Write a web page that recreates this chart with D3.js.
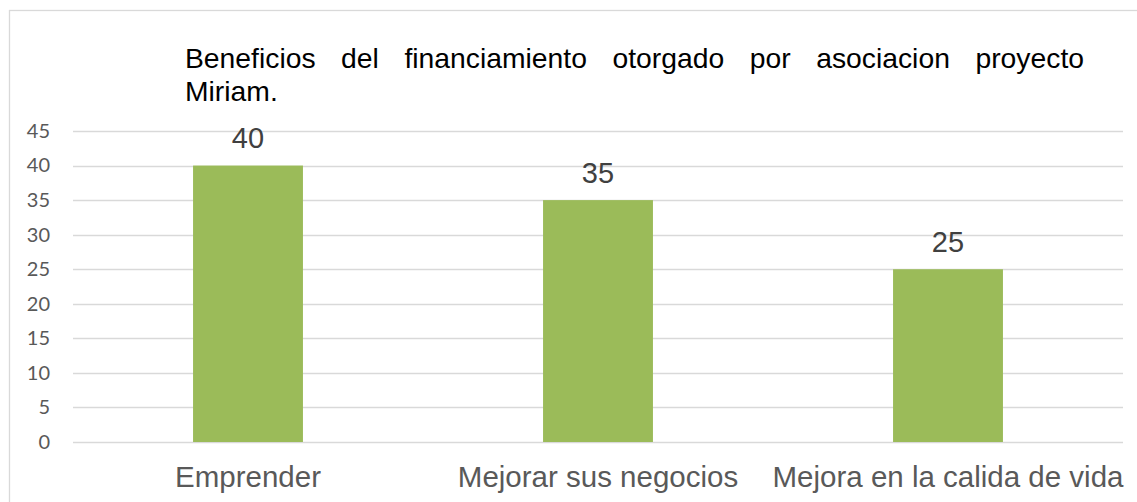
<!DOCTYPE html>
<html>
<head>
<meta charset="utf-8">
<script src="https://cdn.jsdelivr.net/npm/d3@7"></script>
<style>
  html, body { margin: 0; padding: 0; background: #fff; }
  svg { display: block; }
</style>
</head>
<body>
<svg id="chart" width="1137" height="502"></svg>
<script>
const categories = ["Emprender", "Mejorar sus negocios", "Mejora en la calida de vida"];
const values = [40, 35, 25];
const tickValues = [0, 5, 10, 15, 20, 25, 30, 35, 40, 45];
const titleLines = ["Beneficios del financiamiento otorgado por asociacion proyecto", "Miriam."];

const svg = d3.select("#chart");
const plot = { left: 73, right: 1123, top: 131, bottom: 442 };

// outer frame
svg.append("rect")
  .attr("x", 9.5).attr("y", 10.5)
  .attr("width", 1140).attr("height", 500)
  .attr("fill", "#fff").attr("stroke", "#d9d9d9").attr("stroke-width", 1.3);

const x = d3.scaleBand()
  .domain(categories)
  .range([plot.left, plot.right])
  .paddingInner(0.686)
  .paddingOuter(0.343);

const y = d3.scaleLinear()
  .domain([0, 45])
  .range([plot.bottom, plot.top]);

// gridlines
svg.append("g")
  .selectAll("line")
  .data(tickValues)
  .join("line")
  .attr("x1", plot.left).attr("x2", plot.right)
  .attr("y1", d => Math.round(y(d)) + 0.5).attr("y2", d => Math.round(y(d)) + 0.5)
  .attr("stroke", "#d9d9d9").attr("stroke-width", 1.3);

// y axis labels
const yAxis = d3.axisLeft(y).tickValues(tickValues).tickSize(0).tickPadding(0);
const yg = svg.append("g").attr("transform", `translate(50,0)`).call(yAxis);
yg.select(".domain").remove();
yg.selectAll("text")
  .attr("fill", "#595959")
  .style("font-family", "Lato, 'Open Sans', sans-serif")
  .style("font-size", "20px");

// bars
svg.append("g")
  .selectAll("rect")
  .data(values)
  .join("rect")
  .attr("x", (d, i) => x(categories[i]))
  .attr("y", d => y(d))
  .attr("width", x.bandwidth())
  .attr("height", d => y(0) - y(d))
  .attr("fill", "#9bbb59");

// data labels
svg.append("g")
  .selectAll("text")
  .data(values)
  .join("text")
  .attr("x", (d, i) => x(categories[i]) + x.bandwidth() / 2)
  .attr("y", d => y(d) - 17.5)
  .attr("text-anchor", "middle")
  .attr("fill", "#404040")
  .style("font-family", "'Liberation Sans', Arial, sans-serif")
  .style("font-size", "29px")
  .text(d => d);

// category axis
const xAxis = d3.axisBottom(x).tickSize(0).tickPadding(0);
const xg = svg.append("g").attr("transform", `translate(0,${plot.bottom})`).call(xAxis);
xg.select(".domain").remove();
xg.selectAll("text")
  .attr("dy", null)
  .attr("y", 45)
  .attr("fill", "#595959")
  .style("font-family", "'Liberation Sans', Arial, sans-serif")
  .style("font-size", "29.5px");

// title (justified first line)
const titleG = svg.append("g")
  .style("font-family", "'Liberation Sans', Arial, sans-serif")
  .style("font-size", "28.3px")
  .attr("fill", "#000");
const tLeft = 185, tRight = 1084;
const words = titleLines[0].split(" ");
const wordNodes = words.map(w => titleG.append("text").attr("y", 67.5).text(w));
const widths = wordNodes.map(n => n.node().getComputedTextLength());
const gap = (tRight - tLeft - d3.sum(widths)) / (words.length - 1);
let cx = tLeft;
wordNodes.forEach((n, i) => { n.attr("x", cx); cx += widths[i] + gap; });
titleG.append("text").attr("x", tLeft).attr("y", 100.5).text(titleLines[1]);
</script>
</body>
</html>
